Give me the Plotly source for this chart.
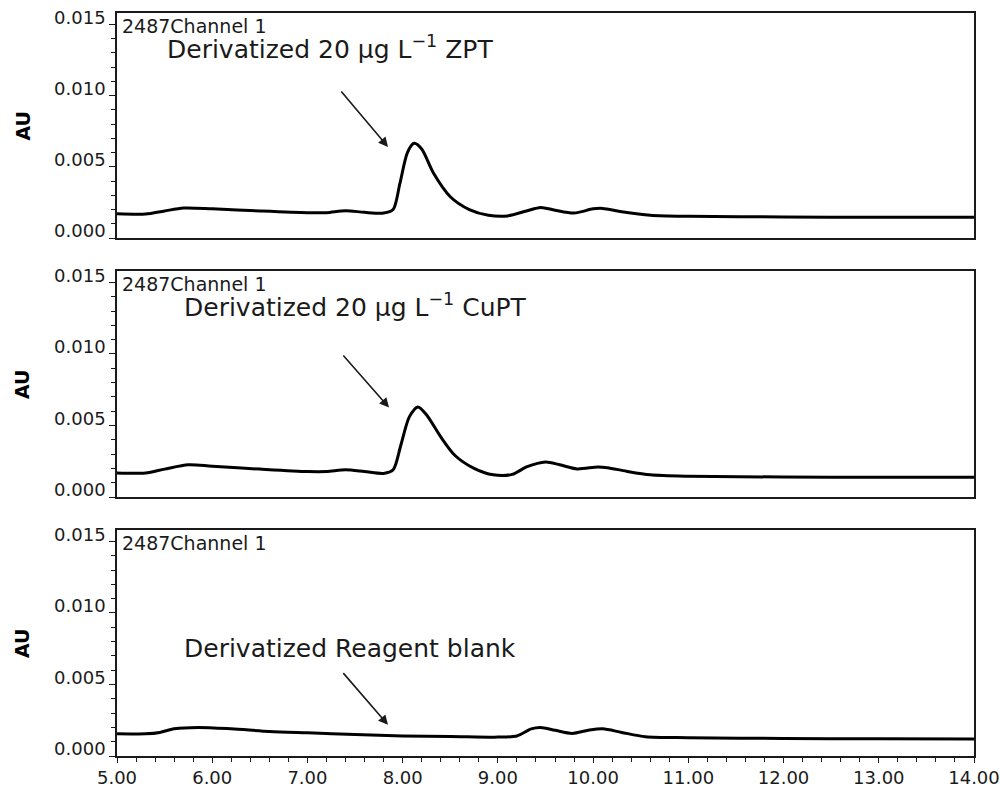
import plotly.graph_objects as go

# ---------------- data ----------------
zpt_time = [5.0, 5.3, 5.5, 5.7, 6.0, 6.5, 7.0, 7.2, 7.4, 7.6, 7.8, 7.9, 7.97, 8.05, 8.12,
            8.2, 8.32, 8.5, 8.7, 8.9, 9.1, 9.3, 9.45, 9.6, 9.8, 10.0, 10.1, 10.3, 10.6,
            11.0, 12.0, 13.0, 14.0]
zpt_au = [0.00170, 0.00168, 0.00190, 0.00210, 0.00205, 0.00190, 0.00178, 0.00178, 0.00192,
          0.00180, 0.00175, 0.00200, 0.00380, 0.00600, 0.00665, 0.00625, 0.00460, 0.00290,
          0.00200, 0.00160, 0.00155, 0.00190, 0.00215, 0.00195, 0.00175, 0.00205, 0.00208,
          0.00185, 0.00160, 0.00152, 0.00148, 0.00145, 0.00145]

cupt_time = [5.0, 5.3, 5.5, 5.75, 6.0, 6.5, 7.0, 7.2, 7.4, 7.6, 7.8, 7.9, 7.98, 8.07, 8.16,
             8.25, 8.4, 8.55, 8.75, 8.95, 9.15, 9.3, 9.5, 9.65, 9.83, 10.05, 10.15, 10.35,
             10.6, 11.0, 12.0, 13.0, 14.0]
cupt_au = [0.00168, 0.00168, 0.00195, 0.00225, 0.00215, 0.00195, 0.00178, 0.00178, 0.00190,
           0.00178, 0.00165, 0.00190, 0.00360, 0.00560, 0.00630, 0.00575, 0.00420, 0.00290,
           0.00200, 0.00155, 0.00158, 0.00210, 0.00245, 0.00225, 0.00196, 0.00210, 0.00205,
           0.00180, 0.00155, 0.00145, 0.00140, 0.00138, 0.00138]

blank_time = [5.0, 5.3, 5.45, 5.6, 5.85, 6.2, 6.6, 7.0, 7.5, 8.0, 8.5, 9.0, 9.2, 9.35, 9.45,
              9.6, 9.78, 9.95, 10.1, 10.3, 10.55, 11.0, 12.0, 13.0, 14.0]
blank_au = [0.00155, 0.00155, 0.00165, 0.00190, 0.00200, 0.00190, 0.00172, 0.00162, 0.00150,
            0.00140, 0.00137, 0.00132, 0.00140, 0.00190, 0.00200, 0.00180, 0.00158, 0.00180,
            0.00190, 0.00165, 0.00135, 0.00128, 0.00123, 0.00120, 0.00118]

panel_labels = ["Derivatized 20 µg L<sup>−1</sup> ZPT",
                "Derivatized 20 µg L<sup>−1</sup> CuPT",
                "Derivatized Reagent blank"]
channel_label = "2487Channel 1"
y_label = "AU"
x_ticks = [5, 6, 7, 8, 9, 10, 11, 12, 13, 14]
y_ticks = [0.0, 0.005, 0.010, 0.015]

# arrows: (tail x, tail y, tip x, tip y) in data units, and label anchors
arrows = [(7.342, 0.01040, 7.846, 0.00639),
          (7.363, 0.01000, 7.857, 0.00625),
          (7.363, 0.00590, 7.846, 0.00218)]
label_pos = [(5.50, 0.01338), (5.68, 0.01340), (5.68, 0.00755)]

series = [(zpt_time, zpt_au), (cupt_time, cupt_au), (blank_time, blank_au)]

# ---------------- figure ----------------
W, H = 1000, 787
ml, mr, mt, mb = 117, 26, 13, 31
ph = H - mt - mb
panels_px = [(13, 238), (271, 497), (530, 756)]
domains = [[1 - (b - mt) / ph, 1 - (t - mt) / ph] for t, b in panels_px]
domains[0][1] = 1.0
domains[2][0] = 0.0

FONT = "DejaVu Sans"
fig = go.Figure()
yr = [0, 0.0158]

for i, (t, a) in enumerate(series):
    n = "" if i == 0 else str(i + 1)
    fig.add_trace(go.Scatter(x=t, y=a, mode="lines", xaxis="x" + n, yaxis="y" + n,
                             line=dict(color="black", width=3, shape="spline", smoothing=0.8),
                             showlegend=False, hoverinfo="skip"))
    xa = dict(domain=[0, 1], range=[5, 14], anchor="y" + n, showline=True, mirror=True,
              linecolor="#1a1a1a", linewidth=1.6, showgrid=False, zeroline=False,
              automargin=False)
    if i == 2:
        xa.update(tickmode="array", tickvals=x_ticks, ticktext=[f"{v:.2f}" for v in x_ticks],
                  ticks="outside", ticklen=5, tickwidth=1.4, tickcolor="#1a1a1a",
                  tickfont=dict(family=FONT, size=18, color="#1a1a1a"),
                  minor=dict(dtick=0.2, tick0=5, ticks="outside", ticklen=4,
                             tickwidth=1.2, tickcolor="#1a1a1a"))
    else:
        xa.update(showticklabels=False, ticks="", matches="x3")
    ya = dict(domain=domains[i], range=yr, anchor="x" + n, showline=True, mirror=True,
              linecolor="#1a1a1a", linewidth=1.6, showgrid=False, zeroline=False,
              automargin=False,
              tickmode="array", tickvals=y_ticks, ticktext=[f"{v:.3f}" for v in y_ticks],
              ticks="outside", ticklen=6, tickwidth=1.4, tickcolor="#1a1a1a",
              ticklabelposition="outside", ticklabelshift=-7, ticklabelstandoff=0,
              tickfont=dict(family=FONT, size=18, color="#1a1a1a"),
              minor=dict(dtick=0.001, tick0=0, ticks="outside", ticklen=4,
                         tickwidth=1.2, tickcolor="#1a1a1a"))
    fig.update_layout({"xaxis" + n: xa, "yaxis" + n: ya})

    # channel label
    fig.add_annotation(text=channel_label, xref="x" + n + " domain", yref="y" + n + " domain",
                       x=0.004, y=1.0, xanchor="left", yanchor="top", showarrow=False,
                       font=dict(family=FONT, size=19, color="#1a1a1a"))
    # AU label
    fig.add_annotation(text="<b>" + y_label + "</b>", xref="paper", yref="y" + n + " domain",
                       x=(22 - ml) / (W - ml - mr), y=0.5, xanchor="center", yanchor="middle",
                       textangle=-90, showarrow=False,
                       font=dict(family=FONT, size=19, color="black"))
    # sample label
    lx, ly = label_pos[i]
    fig.add_annotation(text=panel_labels[i], xref="x" + n, yref="y" + n, x=lx, y=ly,
                       xanchor="left", yanchor="middle", showarrow=False,
                       font=dict(family=FONT, size=25, color="#1a1a1a"))
    # arrow
    tx, ty, hx, hy = arrows[i]
    fig.add_annotation(x=hx, y=hy, ax=tx, ay=ty, xref="x" + n, yref="y" + n,
                       axref="x" + n, ayref="y" + n, text="", showarrow=True,
                       arrowhead=2, arrowsize=1.2, arrowwidth=1.6, arrowcolor="#1a1a1a")

fig.update_layout(width=W, height=H, margin=dict(l=ml, r=mr, t=mt, b=mb, autoexpand=False),
                  paper_bgcolor="white", plot_bgcolor="white",
                  font=dict(family=FONT, color="#1a1a1a"))

fig.write_html("out.html")
